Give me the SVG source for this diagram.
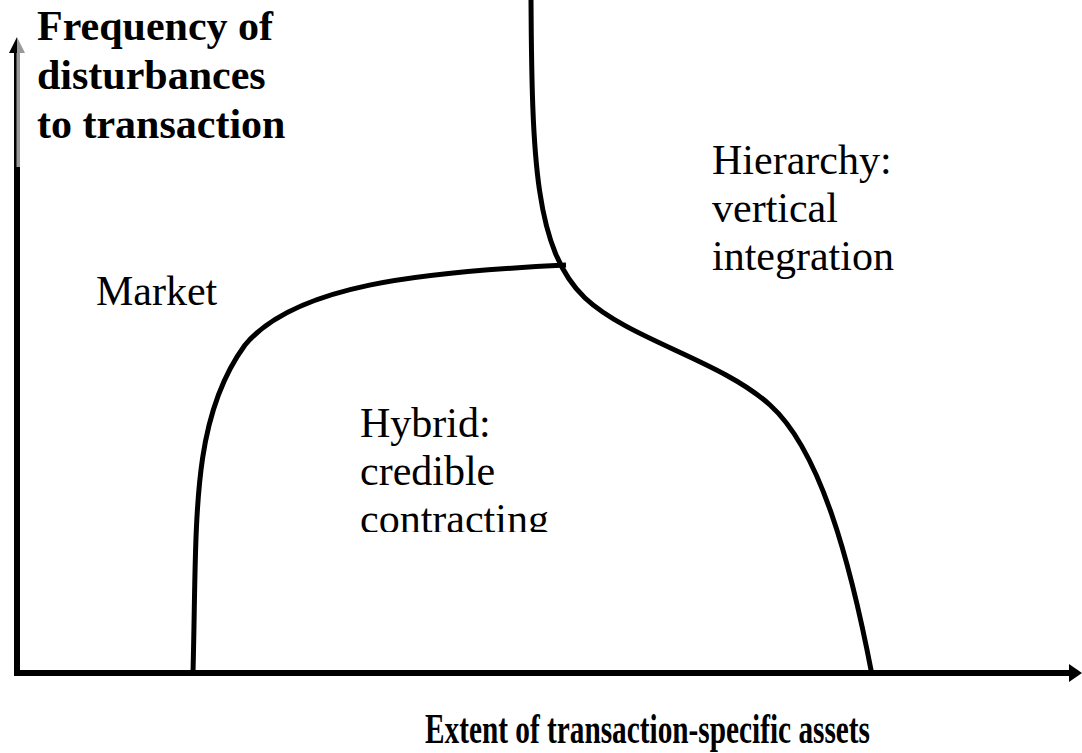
<svg xmlns="http://www.w3.org/2000/svg" width="1082" height="753" viewBox="0 0 1082 753">
<style>
.curve{fill:none;stroke:#000;stroke-width:5;stroke-linecap:butt}
.lbl{font-family:"Liberation Serif","Times New Roman",serif;font-size:42px;fill:#000}
.bold{font-weight:bold}
</style>
<defs>
<clipPath id="clipHybrid"><rect x="300" y="380" width="320" height="152"/></clipPath>
</defs>
<rect width="1082" height="753" fill="#fff"/>
<g id="axes">
<rect x="14" y="53" width="6" height="116" fill="#999"/>
<rect x="14" y="53" width="2.5" height="116" fill="#000"/>
<rect x="14" y="167" width="6" height="509" fill="#000"/>
<polygon points="17,37 9,53 17,53" fill="#000"/>
<polygon points="17,37 25,53 17,53" fill="#999"/>
<rect x="14" y="670" width="1057" height="6" fill="#000"/>
<polygon points="1069,664 1082,673 1069,682" fill="#000"/>
</g>
<g id="connectors">
<path class="curve" d="M193,673 C197,520 190,420 245,345 C295,285 420,272 566,265"/>
<path class="curve" d="M531,0 C532,160 535,250 585,298 C630,340 720,360 770,405 C820,450 850,560 872,675"/>
</g>
<g id="y-label">
<text class="lbl bold" x="37" y="40">Frequency of</text>
<text class="lbl bold" x="37" y="89">disturbances</text>
<text class="lbl bold" x="37" y="138">to transaction</text>
</g>
<g id="market">
<text class="lbl" x="96" y="305">Market</text>
</g>
<g id="hierarchy">
<text class="lbl" x="712" y="174">Hierarchy:</text>
<text class="lbl" x="712" y="222">vertical</text>
<text class="lbl" x="712" y="270">integration</text>
</g>
<g id="hybrid" clip-path="url(#clipHybrid)">
<text class="lbl" x="360" y="437">Hybrid:</text>
<text class="lbl" x="360" y="485">credible</text>
<text class="lbl" x="360" y="533">contracting</text>
</g>
<g id="x-label">
<text class="lbl bold" x="425" y="743" textLength="445" lengthAdjust="spacingAndGlyphs">Extent of transaction-specific assets</text>
</g>
</svg>
